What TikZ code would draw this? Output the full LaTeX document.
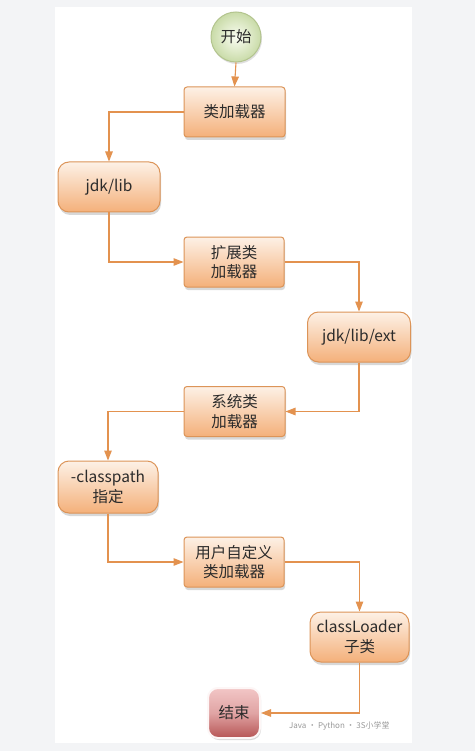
\documentclass[tikz,border=0pt]{standalone}
\usepackage{fontspec}
\setmainfont{Noto Sans CJK SC}
\usetikzlibrary{arrows.meta,shadows}
\definecolor{bgGray}{HTML}{F3F4F6}
\definecolor{lineOr}{HTML}{E3924F}
\definecolor{boxTop}{HTML}{FDF1E6}
\definecolor{boxBot}{HTML}{F4B07A}
\definecolor{boxDraw}{HTML}{DC9458}
\definecolor{txt}{HTML}{2B2B2B}
\definecolor{greenIn}{HTML}{FAFDF2}
\definecolor{greenOut}{HTML}{C9DBA8}
\definecolor{greenDraw}{HTML}{B3C48E}
\definecolor{redTop}{HTML}{F2C6C6}
\definecolor{redBot}{HTML}{B65454}
\begin{document}
\begin{tikzpicture}[x=1pt,y=-1pt,
  every node/.style={text=txt,font=\fontsize{15.5}{19.5}\selectfont,align=center,inner sep=1pt},
  boxbase/.style={rectangle,top color=boxTop,bottom color=boxBot,draw=boxDraw,line width=1pt,
    minimum width=100pt,minimum height=50pt,
    drop shadow={shadow xshift=1pt,shadow yshift=-3pt,opacity=.3}},
  sqbox/.style={boxbase,rounded corners=3pt},
  rndbox/.style={boxbase,rounded corners=11pt},
  conn/.style={draw=lineOr,line width=1.1pt,-{Triangle[length=10pt,width=7.5pt]}}]
\useasboundingbox (0,0) rectangle (475,751);
\fill[bgGray] (0,0) rectangle (475,751);
\fill[white] (55,7) rectangle (412,743);

\node[circle,minimum size=50pt,inner color=greenIn,outer color=greenOut,draw=greenDraw,line width=1pt,
  drop shadow={shadow xshift=1pt,shadow yshift=-2pt,opacity=.25}] (start) at (236,37) {开始};
\node[sqbox,minimum width=101pt] (n1) at (234.5,112) {类加载器};
\node[rndbox,minimum width=102pt] (n2) at (109,187) {jdk/lib};
\node[sqbox] (n3) at (234,262) {扩展类\\加载器};
\node[rndbox,minimum width=103pt] (n4) at (359,337) {jdk/lib/ext};
\node[sqbox,minimum width=101pt] (n5) at (234.5,411.5) {系统类\\加载器};
\node[rndbox,minimum height=52pt] (n6) at (108,487) {-classpath\\指定};
\node[sqbox] (n7) at (234,562) {用户自定义\\类加载器};
\node[rndbox,minimum width=99pt] (n8) at (359.5,637) {classLoader\\子类};
\node[rectangle,rounded corners=10pt,minimum width=52pt,minimum height=50pt,
  top color=redTop,bottom color=redBot,middle color=redTop!70!redBot,draw=white!85!redTop,line width=2pt,
  drop shadow={shadow xshift=1pt,shadow yshift=-2pt,opacity=.3}] (end) at (234,713) {结束};

\node[text=gray!80,font=\fontsize{8}{9}\selectfont,anchor=west] (wm) at (288,726) {Java · Python · 3S小学堂};

\draw[conn] (start.south) -- (n1.north);
\draw[conn] (n1.west) -| (n2.north);
\draw[conn] (n2.south) |- (n3.west);
\draw[conn] (n3.east) -| (n4.north);
\draw[conn] (n4.south) |- (n5.east);
\draw[conn] (n5.west) -| (n6.north);
\draw[conn] (n6.south) |- (n7.west);
\draw[conn] (n7.east) -| (n8.north);
\draw[conn] (n8.south) |- (end.east);
\end{tikzpicture}
\end{document}
